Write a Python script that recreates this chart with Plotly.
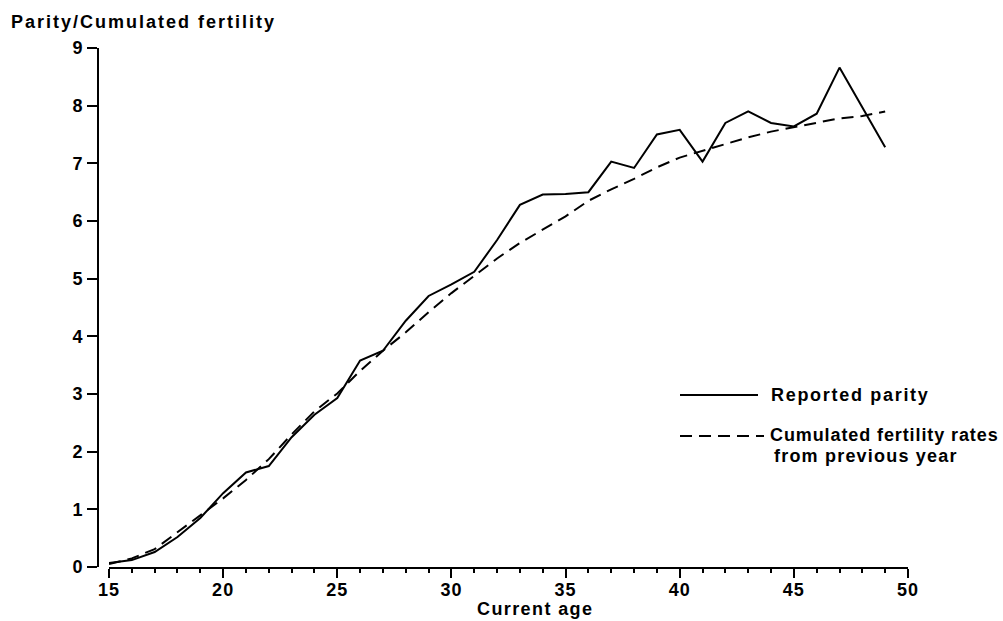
import plotly.graph_objects as go

# ---------------- data ----------------
ages = list(range(15, 50))
reported_parity = [0.07, 0.12, 0.26, 0.52, 0.85, 1.28, 1.64, 1.75, 2.25, 2.64,
                   2.93, 3.58, 3.75, 4.27, 4.70, 4.90, 5.12, 5.67, 6.28, 6.46,
                   6.47, 6.50, 7.03, 6.92, 7.50, 7.58, 7.03, 7.70, 7.90, 7.70,
                   7.64, 7.86, 8.66, 7.98, 7.28]
cumulated_fertility = [0.05, 0.15, 0.31, 0.60, 0.89, 1.19, 1.51, 1.87, 2.30, 2.70,
                       3.01, 3.40, 3.75, 4.07, 4.42, 4.75, 5.05, 5.35, 5.62, 5.85,
                       6.08, 6.35, 6.55, 6.73, 6.93, 7.10, 7.22, 7.33, 7.45, 7.55,
                       7.63, 7.70, 7.78, 7.82, 7.90]
x_tick_vals = [15, 20, 25, 30, 35, 40, 45, 50]
x_tick_labels = ["15", "20", "25", "30", "35", "40", "45", "50"]
y_tick_vals = [0, 1, 2, 3, 4, 5, 6, 7, 8, 9]
y_tick_labels = ["0", "1", "2", "3", "4", "5", "6", "7", "8", "9"]
series_names = ["Reported parity", "Cumulated fertility rates", "from previous year"]
y_title = "Parity/Cumulated fertility"
x_title = "Current age"

# ---------------- layout geometry ----------------
W, H = 1003, 621
L, R, T, B = 98, 908, 48, 567
PW, PH = R - L, B - T
FONT = "Liberation Sans, Arial, Helvetica, sans-serif"
FS = 18


def px2x(px):
    return (px - L) / PW


def py2y(py):
    return (B - py) / PH


def sp(t, s):
    return f'<span style="letter-spacing:{s}px">{t}</span>'


DASH = "12px,7px"
TXT = dict(family=FONT, size=FS, color="black", weight="bold")

fig = go.Figure()
fig.add_trace(go.Scatter(x=ages, y=reported_parity, mode="lines",
                         line=dict(color="black", width=2),
                         name=series_names[0], showlegend=False, cliponaxis=False))
fig.add_trace(go.Scatter(x=ages, y=cumulated_fertility, mode="lines",
                         line=dict(color="black", width=2, dash=DASH),
                         name=series_names[1], showlegend=False, cliponaxis=False))

fig.update_layout(
    width=W, height=H,
    margin=dict(l=L, r=W - R, t=T, b=H - B, pad=0),
    paper_bgcolor="white", plot_bgcolor="white",
    font=TXT,
    showlegend=False,
    xaxis=dict(domain=[(109 - L) / PW, 1], range=[15, 50], anchor="y",
               showline=True, linewidth=2, linecolor="black",
               ticks="outside", ticklen=9, tickwidth=2, tickcolor="black",
               ticklabelstandoff=-4,
               tickvals=x_tick_vals, ticktext=[sp(t, 1) for t in x_tick_labels],
               minor=dict(tickvals=list(range(15, 51)), ticks="outside",
                          ticklen=4, tickwidth=2, tickcolor="black"),
               showgrid=False, zeroline=False, tickfont=TXT),
    yaxis=dict(anchor="free", position=0, range=[0, 9],
               showline=True, linewidth=2, linecolor="black",
               ticks="outside", ticklen=10, tickwidth=2, tickcolor="black",
               tickvals=y_tick_vals, ticktext=[sp(t, 1) for t in y_tick_labels],
               showgrid=False, zeroline=False, tickfont=TXT),
)

# legend drawn by hand (long line samples)
fig.add_shape(type="line", xref="paper", yref="paper",
              x0=px2x(680), x1=px2x(758), y0=py2y(395), y1=py2y(395),
              line=dict(color="black", width=2))
fig.add_shape(type="line", xref="paper", yref="paper",
              x0=px2x(680), x1=px2x(764), y0=py2y(436), y1=py2y(436),
              line=dict(color="black", width=2, dash=DASH))

annots = [
    (y_title, 10, 22, "left", 2.0),
    (x_title, 535, 609, "center", 1.4),
    (series_names[0], 770, 395, "left", 1.7),
    (series_names[1], 769, 435, "left", 0.9),
    (series_names[2], 773, 456, "left", 1.2),
]
for text, x, y, anchor, s in annots:
    fig.add_annotation(text=sp(text, s), xref="paper", yref="paper",
                       x=px2x(x), y=py2y(y), xanchor=anchor, yanchor="middle",
                       showarrow=False, borderpad=0, font=TXT)

fig.write_html("out.html")
